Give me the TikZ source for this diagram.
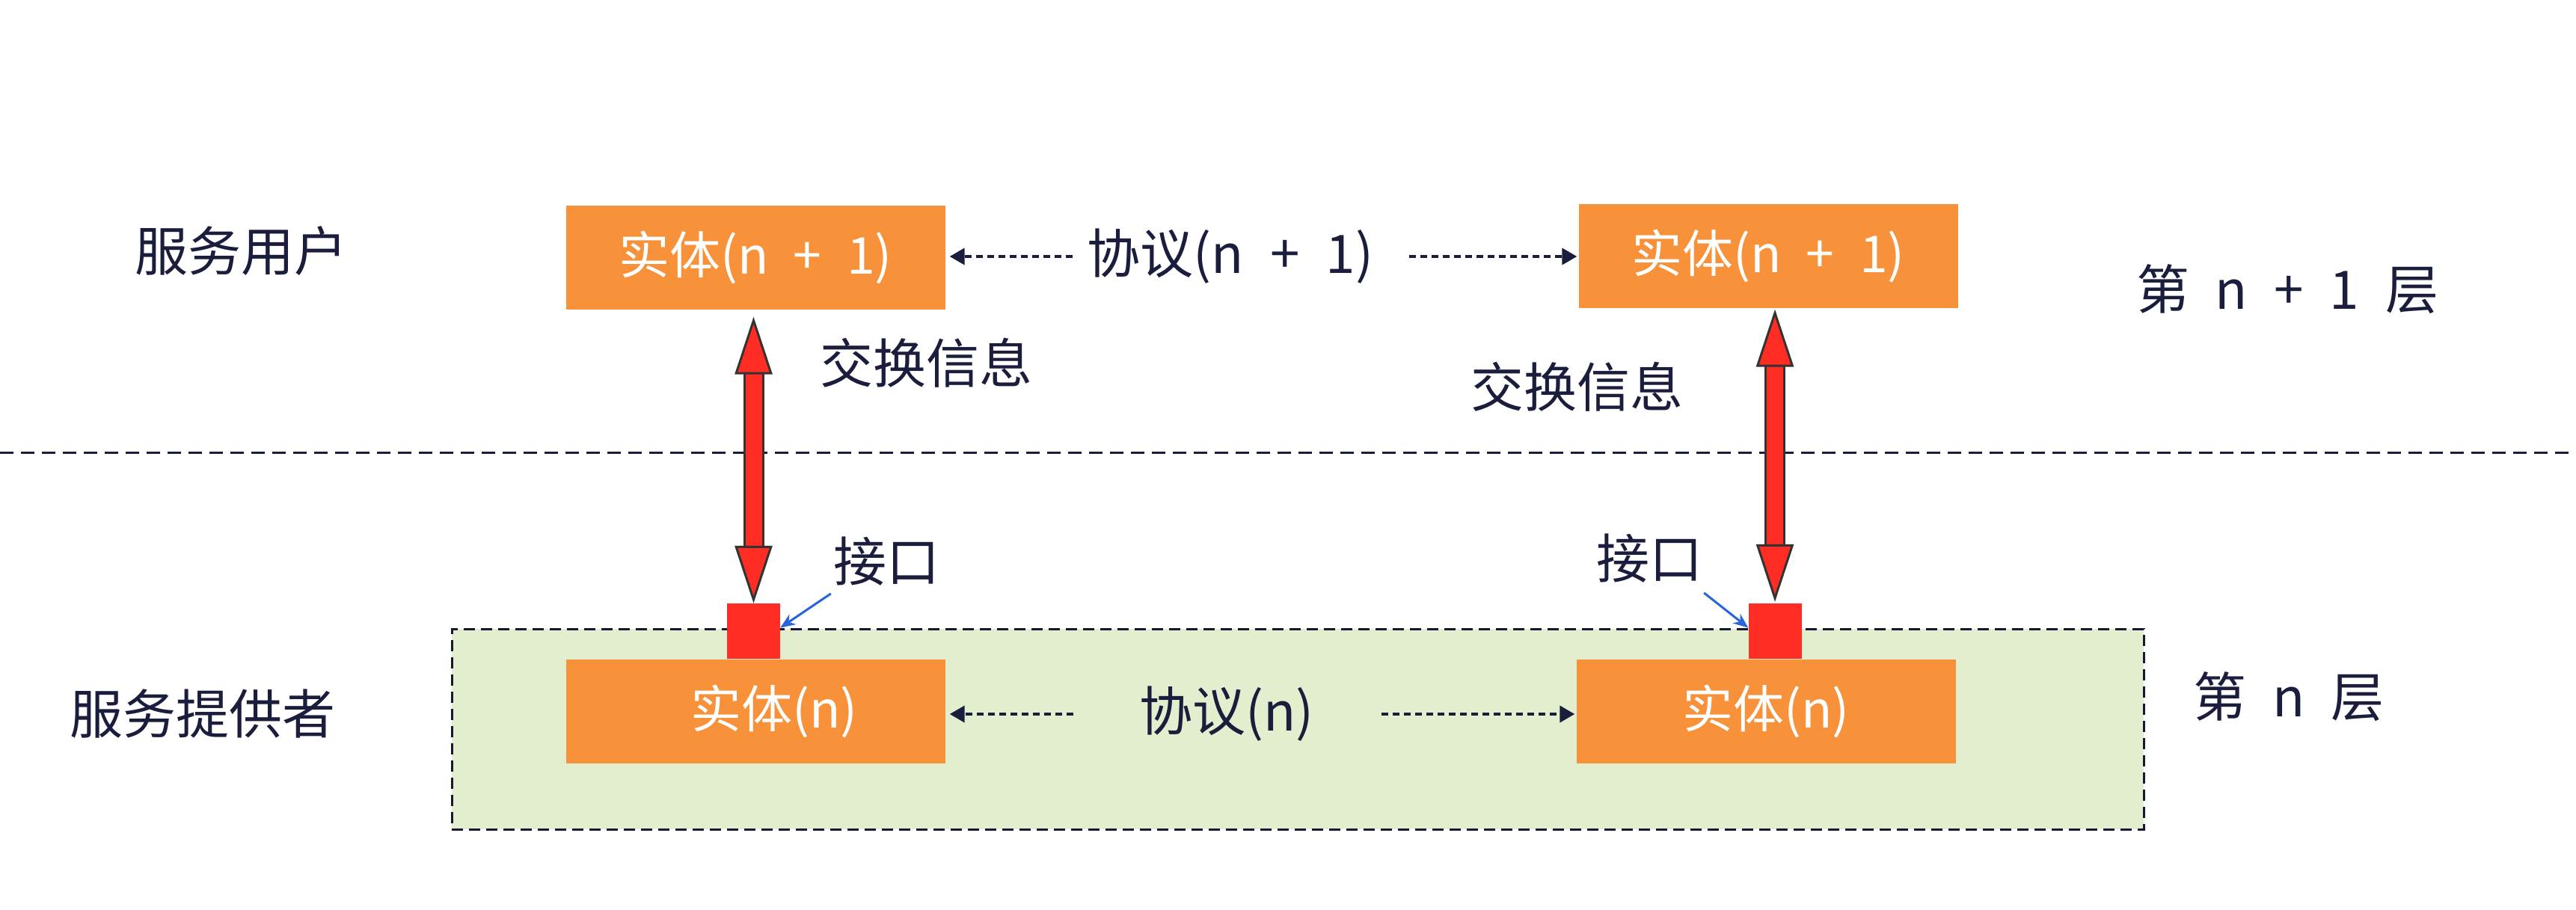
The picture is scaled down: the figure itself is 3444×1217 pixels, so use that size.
\documentclass[tikz,border=0pt]{standalone}
\usepackage{fontspec}
\setmainfont{Noto Sans CJK SC}[WordSpace=2.2]
\usetikzlibrary{arrows.meta}
\definecolor{boxorange}{RGB}{248,146,58}
\definecolor{layergreen}{RGB}{226,238,205}
\definecolor{txt}{RGB}{26,30,60}
\definecolor{ifred}{RGB}{255,45,35}
\definecolor{linkblue}{RGB}{40,100,220}
\begin{document}
\begin{tikzpicture}[x=1pt,y=-1pt,
  entity/.style={fill=boxorange, text=white, font=\fontsize{68}{76}\selectfont, inner sep=0pt, minimum width=507pt, minimum height=139pt},
  lbl/.style={text=txt, font=\fontsize{71}{80}\selectfont, inner sep=0pt},
  proto/.style={draw=txt, line width=4pt, dash pattern=on 9pt off 6pt, -{Triangle[length=20pt,width=22pt]}},
  sepline/.style={draw=txt, line width=3pt, dash pattern=on 18pt off 10pt},
  layerbox/.style={fill=layergreen, draw=txt!85!black, line width=3pt, dash pattern=on 15pt off 8pt, inner sep=0pt},
  ifsquare/.style={fill=ifred, inner sep=0pt, minimum width=71pt, minimum height=74pt},
  bigout/.style={draw=black!80, line width=28pt},
  bigarrow/.style={draw=ifred, line width=22pt, {Triangle[length=77pt,width=50pt,line width=3pt,fill=ifred,color=black!80]}-{Triangle[length=77pt,width=50pt,line width=3pt,fill=ifred,color=black!80]}},
  link/.style={draw=linkblue, line width=3pt, -{Stealth[length=20pt,width=16pt]}}
]
\useasboundingbox (0,0) rectangle (3444,1217);
\fill[white] (0,0) rectangle (3444,1217);

% separator
\coordinate (sepL) at (0,605);
\coordinate (sepR) at (3444,605);
\draw[sepline] (sepL) -- (sepR);

% layer n background
\node[layerbox, minimum width=2262pt, minimum height=268pt] (layer) at (1735,975) {};

% interface squares
\node[ifsquare] (sq1) at (1007.5,844) {};
\node[ifsquare] (sq2) at (2373,844) {};

% entities
\node[entity] (e1) at (1010,344) {实体(n + 1)};
\node[entity] (e2) at (2364,342) {实体(n + 1)};
\node[entity] (e3) at (1010,951) {\hspace*{50pt}实体(n)};
\node[entity] (e4) at (2361,951) {实体(n)};

% labels
\node[lbl] (user) at (322,336) {服务用户};
\node[lbl] (prov) at (271,955) {服务提供者};
\node[lbl] (ln1) at (3058,387) {第 n + 1 层};
\node[lbl] (ln) at (3060,932) {第 n 层};
\node[lbl] (p1) at (1645,343) {协议(n + 1)};
\node[lbl] (p0) at (1640,955) {协议(n)};
\node[lbl] (x1) at (1238,485) {交换信息};
\node[lbl] (x2) at (2108,517) {交换信息};
\node[lbl] (i1) at (1185,751) {接口};
\node[lbl] (i2) at (2205,747) {接口};

% protocol arrows
\draw[proto, shorten <=20pt, shorten >=6pt] (p1.west) -- (e1.east |- p1.west);
\draw[proto, shorten <=48pt, shorten >=2pt] (p1.east) -- (e2.west |- p1.east);
\draw[proto, shorten <=88pt, shorten >=6pt] (p0.west) -- (e3.east |- p0.west);
\draw[proto, shorten <=90pt, shorten >=2pt] (p0.east) -- (e4.west |- p0.east);

% exchange arrows
\draw[bigout, shorten <=75pt, shorten >=70pt] (sq1.north |- e1.south) -- (sq1.north);
\draw[bigarrow, shorten <=10pt] (sq1.north |- e1.south) -- (sq1.north);
\draw[bigout, shorten <=70pt, shorten >=70pt] (sq2.north |- e2.south) -- (sq2.north);
\draw[bigarrow, shorten <=2pt, shorten >=2pt] (sq2.north |- e2.south) -- (sq2.north);

% interface pointers
\draw[link] ([xshift=-3pt,yshift=-10pt]i1.south west) -- (sq1.east |- layer.north);
\draw[link] ([xshift=2pt,yshift=-13pt]i2.south east) -- (sq2.west |- layer.north);
\end{tikzpicture}
\end{document}
